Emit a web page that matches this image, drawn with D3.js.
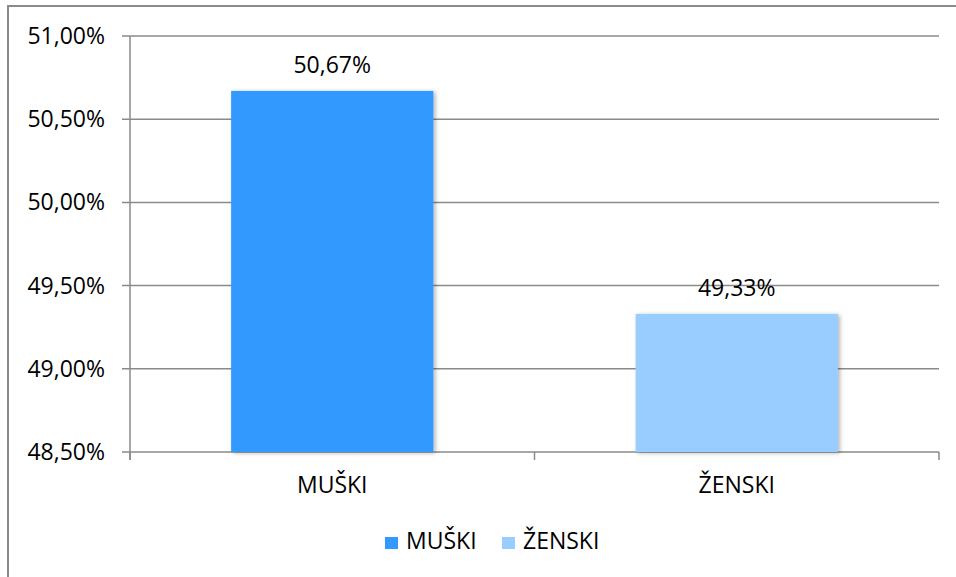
<!DOCTYPE html>
<html>
<head>
<meta charset="utf-8">
<script src="https://cdn.jsdelivr.net/npm/d3@7"></script>
<style>
  body { margin: 0; background: #fff; }
  svg text { font-family: "Open Sans", sans-serif; fill: #000; }
</style>
</head>
<body>
<div id="chart"></div>
<script>
const categories = ["MUŠKI", "ŽENSKI"]
const values = [50.67, 49.33]
const colors = ["#3399FF", "#99CCFF"]
const yTicks = [48.5, 49, 49.5, 50, 50.5, 51]

const W = 956, H = 577
const margin = { top: 36, right: 17, bottom: 125, left: 130 }
const w = W - margin.left - margin.right
const h = H - margin.top - margin.bottom

const loc = d3.formatLocale({ decimal: ",", thousands: ".", grouping: [3], currency: ["", ""] })
const fmt = d => loc.format(".2f")(d) + "%"

const svg = d3.select("#chart").append("svg")
  .attr("width", W)
  .attr("height", H)

const defs = svg.append("defs")
const shadow = defs.append("filter").attr("id", "shadow")
  .attr("x", "-10%").attr("y", "-10%").attr("width", "130%").attr("height", "130%")
shadow.append("feDropShadow")
  .attr("dx", 2).attr("dy", 1).attr("stdDeviation", 2)
  .attr("flood-color", "#000").attr("flood-opacity", 0.3)

// outer frame (runs off the right/bottom edge)
svg.append("rect")
  .attr("x", 8).attr("y", 6)
  .attr("width", W).attr("height", H)
  .attr("fill", "none")
  .attr("stroke", "#8a8a8a")
  .attr("stroke-width", 2)

const g = svg.append("g")
  .attr("transform", "translate(" + margin.left + "," + margin.top + ")")

const x = d3.scaleBand().domain(categories).range([0, w]).paddingInner(0.5).paddingOuter(0.25)
const xOuter = d3.scaleBand().domain(categories).range([0, w])
const y = d3.scaleLinear().domain([48.5, 51]).range([h, 0])

// gridlines
g.selectAll(".grid")
  .data(yTicks)
  .enter()
  .append("line")
  .attr("class", "grid")
  .attr("x1", -8)
  .attr("x2", w)
  .attr("y1", d => y(d))
  .attr("y2", d => y(d))
  .style("stroke", "#8a8a8a")
  .style("stroke-width", "1.5px")

// y axis line
g.append("line")
  .attr("x1", 0).attr("x2", 0)
  .attr("y1", 0).attr("y2", h + 8)
  .style("stroke", "#8a8a8a")
  .style("stroke-width", "1.5px")

// x ticks at category boundaries
const bounds = categories.map(c => xOuter(c)).concat([w])
g.selectAll(".xtick")
  .data(bounds)
  .enter()
  .append("line")
  .attr("x1", d => d).attr("x2", d => d)
  .attr("y1", h).attr("y2", h + 8)
  .style("stroke", "#8a8a8a")
  .style("stroke-width", "1.5px")

// y tick labels
g.selectAll(".ylabel")
  .data(yTicks)
  .enter()
  .append("text")
  .attr("x", -25)
  .attr("y", d => y(d))
  .attr("dy", "0.35em")
  .attr("text-anchor", "end")
  .style("font-size", "23px")
  .text(fmt)

// bars
g.selectAll(".bar")
  .data(values)
  .enter()
  .append("rect")
  .attr("class", "bar")
  .attr("x", (d, i) => x(categories[i]))
  .attr("width", x.bandwidth())
  .attr("y", d => y(d))
  .attr("height", d => h - y(d))
  .attr("fill", (d, i) => colors[i])
  .attr("filter", "url(#shadow)")

// value labels
g.selectAll(".val")
  .data(values)
  .enter()
  .append("text")
  .attr("x", (d, i) => x(categories[i]) + x.bandwidth() / 2)
  .attr("y", d => y(d) - 18)
  .attr("text-anchor", "middle")
  .style("font-size", "23px")
  .text(fmt)

// category labels
g.selectAll(".cat")
  .data(categories)
  .enter()
  .append("text")
  .attr("x", d => x(d) + x.bandwidth() / 2)
  .attr("y", h + 41)
  .attr("text-anchor", "middle")
  .style("font-size", "23px")
  .text(d => d)

// legend
const legendX = [385, 502]
const legend = svg.selectAll(".legend")
  .data(categories)
  .enter()
  .append("g")
  .attr("transform", (d, i) => "translate(" + legendX[i] + ",537)")
legend.append("rect")
  .attr("width", 13).attr("height", 12)
  .attr("fill", (d, i) => colors[i])
legend.append("text")
  .attr("x", 21)
  .attr("y", 12)
  .style("font-size", "23px")
  .text(d => d)
</script>
</body>
</html>
